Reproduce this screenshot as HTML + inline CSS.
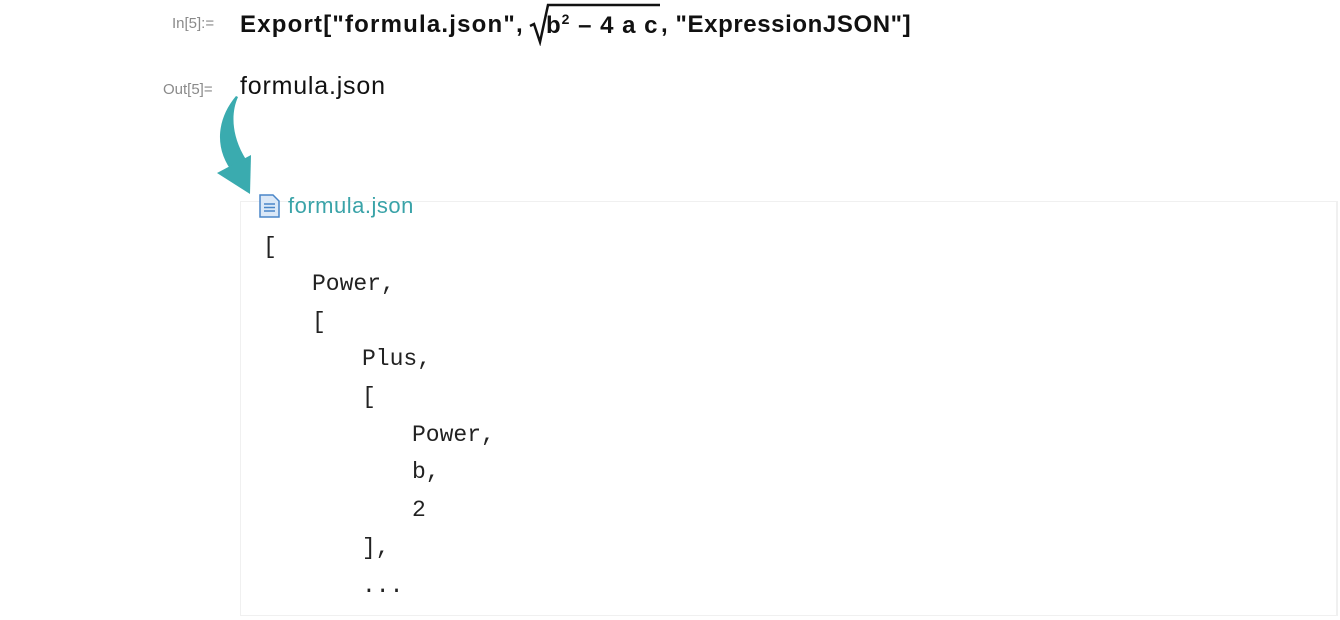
<!DOCTYPE html>
<html><head><meta charset="utf-8"><style>
body{margin:0;width:1340px;height:620px;background:#fff;position:relative;overflow:hidden;font-family:"Liberation Sans",sans-serif}
.a{position:absolute;white-space:pre}
.lbl{color:#8a8a8a;font-size:15px}
.in{font-weight:bold;font-size:24px;color:#111}
.box{position:absolute;left:240px;top:201px;width:1095px;height:413px;border:1px solid #f0f0f0;border-right:2px solid #f0f0f0}
.m{position:absolute;font-family:"Liberation Mono",monospace;font-size:23px;color:#222;white-space:pre}
</style></head><body>
<div class="a lbl" style="left:172px;top:15px">In[5]:=</div>
<div class="a in" style="left:240px;top:11px;letter-spacing:1.2px">Export["formula.json",</div>
<div class="a in" style="left:546px;top:11px;letter-spacing:1px">b<sup style="font-size:14px">2</sup> – 4 a c</div>
<div class="a in" style="left:661px;top:11px;letter-spacing:0.6px">, "ExpressionJSON"]</div>
<svg style="position:absolute;left:528px;top:2px" width="135" height="44"><path d="M2 24 L6 22 L12 40 L20 3 L132 3" fill="none" stroke="#111" stroke-width="2.5"/></svg>
<div class="a lbl" style="left:163px;top:81px">Out[5]=</div>
<div class="a" style="left:240px;top:72px;font-size:25px;letter-spacing:0.8px;color:#111">formula.json</div>
<svg style="position:absolute;left:0;top:0" width="300" height="200">
<path d="M236 96 C216 120 214 150 234 174 L249 164 C232 140 230 115 238 97 Z" fill="#3aabaf"/>
<path d="M217 173 L251 155 L250 194 Z" fill="#3aabaf"/>
</svg>
<div class="box"></div>
<svg style="position:absolute;left:259px;top:194px" width="22" height="24"><path d="M1 1 H14 L20 7 V23 H1 Z" fill="#dbe8f7" stroke="#4a86c8" stroke-width="1.5"/><path d="M5 10 H16 M5 13.5 H16 M5 17 H16" stroke="#4a86c8" stroke-width="1.5"/></svg>
<div class="a" style="left:288px;top:193px;font-size:22px;letter-spacing:0.5px;color:#3aa3a8">formula.json</div>
<div class="m" style="left:263px;top:234px">[</div>
<div class="m" style="left:312px;top:271px">Power,</div>
<div class="m" style="left:312px;top:309px">[</div>
<div class="m" style="left:362px;top:346px">Plus,</div>
<div class="m" style="left:362px;top:384px">[</div>
<div class="m" style="left:412px;top:422px">Power,</div>
<div class="m" style="left:412px;top:459px">b,</div>
<div class="m" style="left:412px;top:497px">2</div>
<div class="m" style="left:362px;top:535px">],</div>
<div class="m" style="left:362px;top:573px">...</div>
</body></html>
